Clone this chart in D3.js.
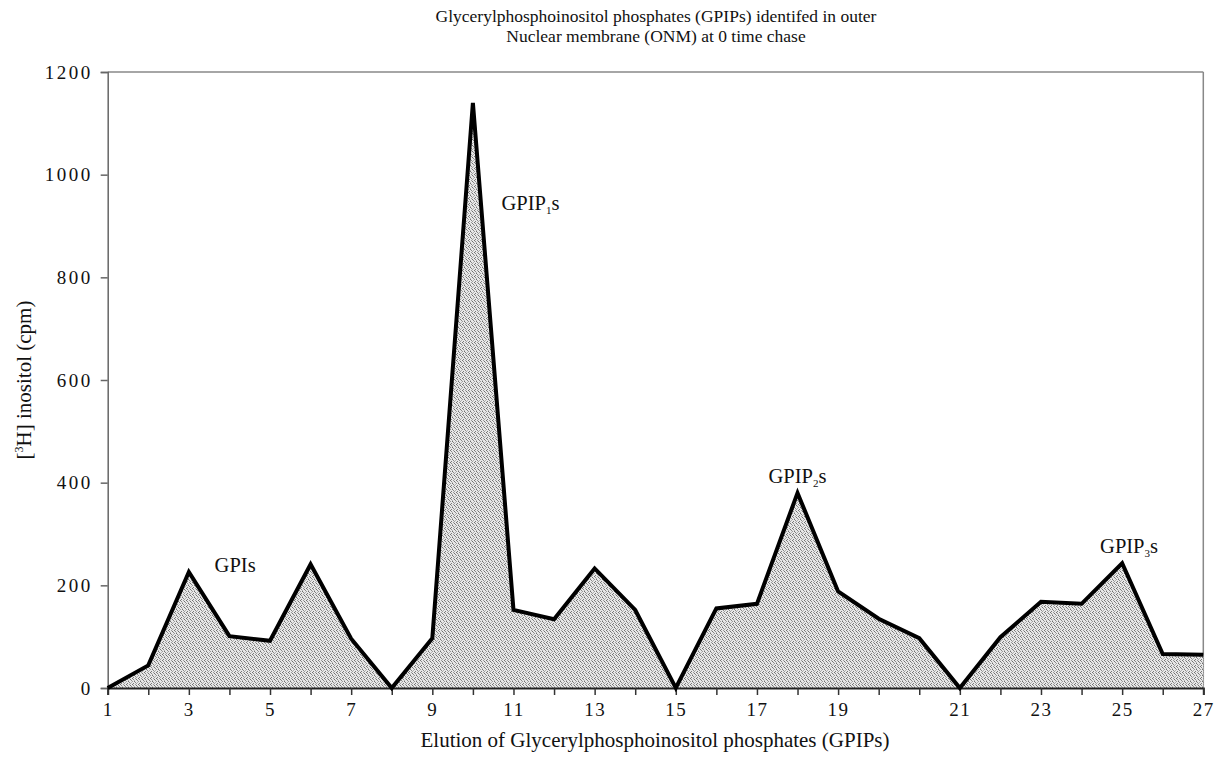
<!DOCTYPE html>
<html>
<head>
<meta charset="utf-8">
<script src="https://cdn.jsdelivr.net/npm/d3@7"></script>
<style>
  html, body { margin: 0; padding: 0; background: #fff; }
  svg { display: block; }
  text { font-family: "Liberation Serif", "Times New Roman", serif; fill: #111; }
</style>
</head>
<body>
<svg id="chart" width="1219" height="768"></svg>
<script>
// ---- data ----
const fractionIndex = d3.range(28);
const cpmValues = [0, 44, 226, 101, 92, 241, 96, 0, 97, 1140, 152, 134, 233, 152,
                   0, 155, 164, 380, 188, 135, 97, 0, 99, 168, 164, 243, 66, 65];
const xTickPositions = [0, 2, 4, 6, 8, 10, 12, 14, 16, 18, 21, 23, 25, 27];
const xTickLabels = ["1", "3", "5", "7", "9", "11", "13", "15", "17", "19", "21", "23", "25", "27"];
const yTicks = [0, 200, 400, 600, 800, 1000, 1200];
const peakLabels = [
  { base: "GPI", sub: "", tail: "s", x: 3.14, y: 226 },
  { base: "GPIP", sub: "1", tail: "s", x: 10.42, y: 932 },
  { base: "GPIP", sub: "2", tail: "s", x: 17.0, y: 400 },
  { base: "GPIP", sub: "3", tail: "s", x: 25.17, y: 263 }
];
const titleLines = ["Glycerylphosphoinositol phosphates (GPIPs) identifed in outer",
                    "Nuclear membrane (ONM) at 0 time chase"];
const xTitle = "Elution of Glycerylphosphoinositol phosphates (GPIPs)";

// ---- layout ----
const svg = d3.select("#chart");
const mLeft = 107.7, mRight = 1203.3, mTop = 72, mBottom = 688;
const x = d3.scaleLinear().domain([0, 27]).range([mLeft, mRight]);
const y = d3.scaleLinear().domain([0, 1200]).range([mBottom, mTop]);

// pattern fill (stipple)
const defs = svg.append("defs");
const pat = defs.append("pattern").attr("id", "stipple")
  .attr("patternUnits", "userSpaceOnUse").attr("width", 6).attr("height", 6);
pat.append("rect").attr("width", 6).attr("height", 6).attr("fill", "#e8e8e8");
[[0,0,"#707070"],[1,1,"#8a8a8a"],[3,0,"#9a9a9a"],[4,1,"#707070"],[5,2,"#8a8a8a"],
 [2,3,"#707070"],[3,4,"#8a8a8a"],[0,3,"#9a9a9a"],[1,5,"#7a7a7a"],[4,5,"#a0a0a0"],
 [2,2,"#b4b4b4"],[5,4,"#b4b4b4"]].forEach(([a,b,c]) => {
  pat.append("rect").attr("x", a).attr("y", b).attr("width", 1).attr("height", 1).attr("fill", c);
});

// plot frame (top/right)
svg.append("line").attr("x1", mLeft).attr("x2", mRight).attr("y1", mTop).attr("y2", mTop)
  .attr("stroke", "#888").attr("stroke-width", 1.5);
svg.append("line").attr("x1", mRight).attr("x2", mRight).attr("y1", mTop).attr("y2", mBottom)
  .attr("stroke", "#888").attr("stroke-width", 1.5);

// area
const data = fractionIndex.map((i) => ({ i, v: cpmValues[i] }));
svg.append("path").datum(data)
  .attr("fill", "url(#stipple)")
  .attr("d", d3.area().x(d => x(d.i)).y0(y(0)).y1(d => y(d.v)));

// y axis
const yAxis = svg.append("g").attr("transform", `translate(${mLeft},0)`)
  .call(d3.axisLeft(y).tickValues(yTicks).tickSize(7).tickPadding(8).tickFormat(d3.format("d")));
yAxis.select(".domain").attr("stroke", "#666").attr("stroke-width", 1.5);
yAxis.selectAll(".tick line").attr("stroke", "#666").attr("stroke-width", 1.5);
yAxis.selectAll("text").style("font-size", "19px").attr("letter-spacing", "2.5px")
  .style("font-family", "Liberation Serif, serif").attr("fill", "#111");

// x axis
const labelMap = new Map(xTickPositions.map((p, k) => [p, xTickLabels[k]]));
const xAxis = svg.append("g").attr("transform", `translate(0,${mBottom})`)
  .call(d3.axisBottom(x).tickValues(fractionIndex).tickSize(7).tickPadding(8)
    .tickFormat(d => labelMap.get(d) || ""));
xAxis.select(".domain").attr("stroke", "#222").attr("stroke-width", 2);
xAxis.selectAll(".tick line").attr("stroke", "#333").attr("stroke-width", 1.5);
xAxis.selectAll("text").style("font-size", "19px").attr("letter-spacing", "1.5px")
  .style("font-family", "Liberation Serif, serif").attr("fill", "#111");

// line
svg.append("path").datum(data)
  .attr("fill", "none").attr("stroke", "#000").attr("stroke-width", 4)
  .attr("stroke-linejoin", "miter")
  .attr("d", d3.line().x(d => x(d.i)).y(d => y(d.v)));

// title
svg.append("text").attr("x", 656).attr("text-anchor", "middle")
  .style("font-size", "17.5px")
  .selectAll("tspan").data(titleLines).join("tspan")
  .attr("x", 656).attr("y", (d, k) => 22 + k * 20).text(d => d);

// axis titles
svg.append("text").attr("x", 655).attr("y", 747).attr("text-anchor", "middle")
  .style("font-size", "21px").text(xTitle);

const yt = svg.append("text").attr("transform", "translate(31,380) rotate(-90)")
  .attr("text-anchor", "middle").style("font-size", "21px");
yt.append("tspan").text("[");
yt.append("tspan").attr("dy", -8).style("font-size", "12px").text("3");
yt.append("tspan").attr("dy", 8).text("H] inositol (cpm)");

// peak labels
peakLabels.forEach(p => {
  const t = svg.append("text").attr("x", x(p.x)).attr("y", y(p.y))
    .attr("text-anchor", "middle").style("font-size", "20.5px");
  t.append("tspan").text(p.base);
  if (p.sub) t.append("tspan").attr("dy", 4).style("font-size", "11px").text(p.sub);
  t.append("tspan").attr("dy", p.sub ? -4 : 0).text(p.tail);
});
</script>
</body>
</html>
